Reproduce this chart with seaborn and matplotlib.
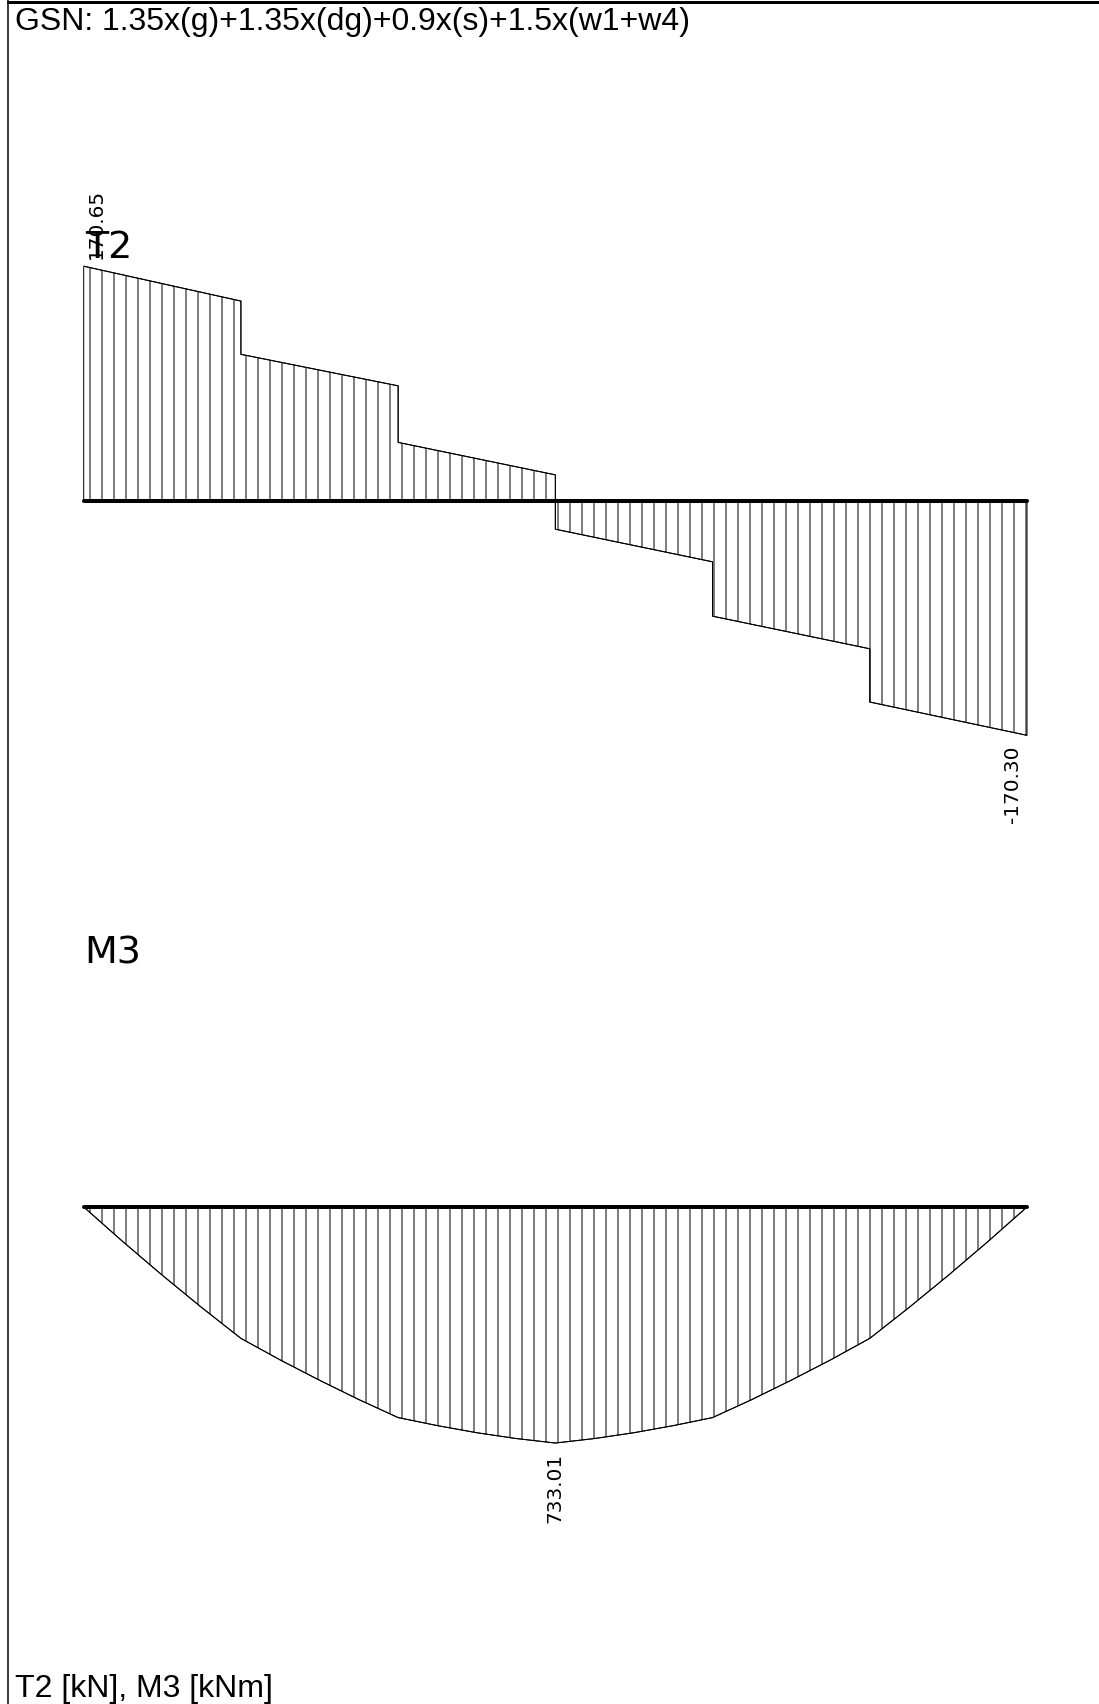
import matplotlib
matplotlib.use('Agg')
import matplotlib.pyplot as plt
import seaborn as sns
import pandas as pd
from matplotlib.lines import Line2D

# Daten (Knotenpositionen in Feldeinheiten)
t2_x = [0, 1, 1, 2, 2, 3, 3, 4, 4, 5, 5, 6]
t2_val = [170.65, 145.3, 106.6, 83.7, 42.6, 19.0, -20.5, -44.2, -83.7, -107.4, -146.1, -170.30]

m3_x = [0, 0.25, 0.5, 0.75, 1, 1.25, 1.5, 1.75, 2, 2.25, 2.5, 2.75, 3,
        3.25, 3.5, 3.75, 4, 4.25, 4.5, 4.75, 5, 5.25, 5.5, 5.75, 6]
m3_val = [0, 108, 212, 312, 408, 475, 538, 598, 654, 679, 701, 719, 733.01,
          719, 701, 679, 654, 598, 538, 475, 408, 312, 212, 108, 0]

title_txt = 'GSN: 1.35x(g)+1.35x(dg)+0.9x(s)+1.5x(w1+w4)'
unit_txt = 'T2 [kN], M3 [kNm]'

sns.set_style('white')
plt.rcParams['font.family'] = ['DejaVu Sans']
plt.rcParams['text.color'] = 'black'
plt.rcParams['hatch.color'] = '#222222'
plt.rcParams['hatch.linewidth'] = 1.0

W, H = 1099, 1704
fig = plt.figure(figsize=(W / 72, H / 72), dpi=72)

df_t = pd.DataFrame({'x': t2_x, 'T2': t2_val})
df_m = pd.DataFrame({'x': m3_x, 'M3': m3_val})

# Querkraft
ax_t = fig.add_axes([83.7 / W, (H - 845) / H, 943.3 / W, 688 / H])
ax_t.fill_between(df_t['x'], df_t['T2'], 0, facecolor='none', edgecolor='black',
                  hatch='|', linewidth=1.0, clip_on=False)
sns.lineplot(data=df_t, x='x', y='T2', ax=ax_t, estimator=None, sort=False,
             color='black', linewidth=1.0)
ax_t.axhline(0, color='black', linewidth=4, clip_on=False)
ax_t.set_xlim(0, 6)
ax_t.set_ylim(-250, 250)
ax_t.axis('off')
ax_t.annotate(f'{t2_val[0]:.2f}', xy=(t2_x[0], t2_val[0]), xytext=(13, 7),
              textcoords='offset points', rotation=90, ha='center', va='bottom',
              fontsize=20, color='black')
ax_t.annotate(f'{t2_val[-1]:.2f}', xy=(t2_x[-1], t2_val[-1]), xytext=(-14, -10),
              textcoords='offset points', rotation=90, ha='center', va='top',
              fontsize=20, color='black')

# Moment
ax_m = fig.add_axes([83.7 / W, (H - 1464.6) / H, 943.3 / W, 289.8 / H])
ax_m.fill_between(df_m['x'], df_m['M3'], 0, facecolor='none', edgecolor='black',
                  hatch='|', linewidth=1.0, clip_on=False)
sns.lineplot(data=df_m, x='x', y='M3', ax=ax_m, estimator=None, sort=False,
             color='black', linewidth=1.0)
ax_m.axhline(0, color='black', linewidth=4, clip_on=False)
ax_m.set_xlim(0, 6)
ax_m.set_ylim(800, -100)
ax_m.axis('off')
imax = m3_val.index(max(m3_val))
ax_m.annotate(f'{m3_val[imax]:.2f}', xy=(m3_x[imax], m3_val[imax]), xytext=(0, -10),
              textcoords='offset points', rotation=90, ha='center', va='top',
              fontsize=20, color='black')

# Beschriftungen
fig.text(85 / W, 1 - 258 / H, 'T2', fontsize=38, va='baseline', ha='left', color='black')
fig.text(84 / W, 1 - 963 / H, 'M3', fontsize=38, va='baseline', ha='left', color='black')
fig.text(15 / W, 1 - 30 / H, title_txt, fontsize=32, family='Liberation Sans',
         va='baseline', ha='left', color='black')
fig.text(15 / W, 1 - 1697 / H, unit_txt, fontsize=32, family='Liberation Sans',
         va='baseline', ha='left', color='black')

# Rahmen
fig.add_artist(Line2D([8 / W, 8 / W], [0, 1], transform=fig.transFigure,
                      color='black', linewidth=1.5))
fig.add_artist(Line2D([8 / W, 1], [1 - 2 / H, 1 - 2 / H], transform=fig.transFigure,
                      color='black', linewidth=3))

fig.savefig('out.png', dpi=72, facecolor='white')
